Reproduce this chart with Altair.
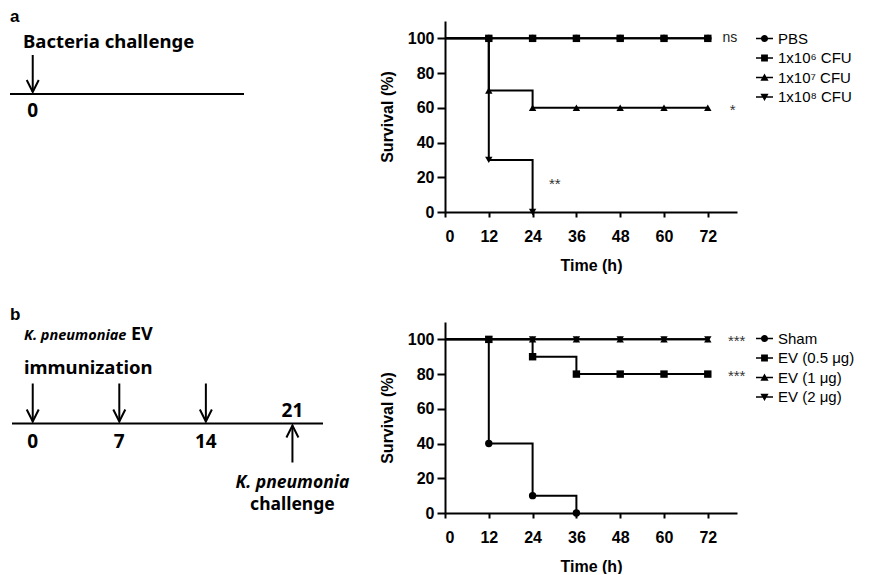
import altair as alt
import pandas as pd

# ---------------- data ----------------
times = [0, 12, 24, 36, 48, 60, 72]
x_ticks = [0, 12, 24, 36, 48, 60, 72]
y_ticks = [0, 20, 40, 60, 80, 100]

a_groups = ["PBS", "1x10⁶ CFU", "1x10⁷ CFU", "1x10⁸ CFU"]
a_pbs = [100, 100, 100, 100, 100, 100, 100]
a_1e6 = [100, 100, 100, 100, 100, 100, 100]
a_1e7 = [100, 70, 60, 60, 60, 60, 60]
a_1e8 = [100, 30, 0]

b_groups = ["Sham", "EV (0.5 μg)", "EV (1 μg)", "EV (2 μg)"]
b_sham = [100, 40, 10, 0]
b_ev05 = [100, 100, 90, 80, 80, 80, 80]
b_ev1 = [100, 100, 100, 100, 100, 100, 100]
b_ev2 = [100, 100, 100, 100, 100, 100, 100]

a_sig = ["ns", "*", "**"]
a_sig_t = [76, 78, 28.5]
a_sig_s = [100, 60, 17]
b_sig = ["***", "***"]
b_sig_t = [77.5, 77.5]
b_sig_s = [100, 80]

# schematic timelines (days)
a_down_days = [0]
a_below_days = [0]
a_below_labels = ["0"]
a_title = "Bacteria challenge"

b_down_days = [0, 7, 14]
b_up_days = [21]
b_below_days = [0, 7, 14]
b_below_labels = ["0", "7", "14"]
b_above_days = [21]
b_above_labels = ["21"]
b_title_it = "K. pneumoniae"
b_title_up = "EV"
b_title2 = "immunization"
b_chal_it = "K. pneumonia"
b_chal = "challenge"

FONT = "Liberation Sans"
SFONT = "Noto Sans"

shapes = ["circle", "square", "triangle-up", "triangle-down"]
LINE = "M-1,-0.1H1V0.1H-1Z"
legend_paths = [
    LINE + "M0.42,0A0.42,0.42,0,1,1,-0.42,0A0.42,0.42,0,1,1,0.42,0Z",
    LINE + "M-0.4,-0.4H0.4V0.4H-0.4Z",
    LINE + "M0,-0.46L0.48,0.38L-0.48,0.38Z",
    LINE + "M-0.48,-0.38L0.48,-0.38L0,0.46Z",
]
DOWN_HEAD = "M-0.5,-1L0,0L0.5,-1"
UP_HEAD = "M-0.5,1L0,0L0.5,1"


def survival_df(groups, series):
    rows = []
    for gi, (g, vals) in enumerate(zip(groups, series)):
        for t, s in zip(times, vals):
            rows.append({"t": t, "s": s, "g": g, "gi": gi})
    return pd.DataFrame(rows)


def survival(df, groups, sig, sig_t, sig_s, legend_y):
    xs = alt.Scale(domain=[0, 80], nice=False)
    ys = alt.Scale(domain=[0, 110], nice=False)
    X = alt.X("t:Q", scale=xs, axis=alt.Axis(values=x_ticks, title="Time (h)"))
    Y = alt.Y("s:Q", scale=ys, axis=alt.Axis(values=y_ticks, title="Survival (%)"))
    base = alt.Chart(df)
    lines = base.mark_line(interpolate="step-after", color="black", strokeWidth=2).encode(
        x=X, y=Y, detail="g:N", order="t:Q")
    pts = base.transform_filter("datum.t > 0").mark_point(
        filled=True, color="black", opacity=1, size=55).encode(
        x=X, y=Y,
        shape=alt.Shape("g:N", scale=alt.Scale(domain=groups, range=shapes), legend=None),
        order=alt.Order("gi:Q"))
    leg = base.transform_filter("datum.t < 0").mark_point(
        filled=True, color="black", opacity=1, size=289).encode(
        x=X, y=Y,
        shape=alt.Shape("g:N", scale=alt.Scale(domain=groups, range=legend_paths),
                        legend=alt.Legend(title=None, orient="none", legendX=311, legendY=legend_y,
                                          symbolSize=289, labelFont=FONT, labelFontSize=15,
                                          labelColor="black", labelOffset=5, rowPadding=2.5,
                                          padding=0, symbolFillColor="black",
                                          symbolStrokeColor="black", symbolStrokeWidth=0,
                                          labelLimit=200)))
    sdf = pd.DataFrame({"t": sig_t, "s": sig_s, "m": sig})
    ns = alt.Chart(sdf).transform_filter("datum.m == 'ns'").mark_text(
        align="left", baseline="middle", font=FONT, fontSize=14, color="#222", dy=0).encode(
        x=X, y=Y, text="m:N")
    stars = alt.Chart(sdf).transform_filter("datum.m != 'ns'").mark_text(
        align="left", baseline="middle", font=FONT, fontSize=15, color="#333", dy=2).encode(
        x=X, y=Y, text="m:N")
    return alt.layer(lines, pts, leg, ns, stars).resolve_scale(shape="independent").properties(
        width=292, height=191)


day_scale = alt.Scale(domain=[-2, 28], nice=False, zero=False)
XD = alt.X("day:Q", scale=day_scale, axis=None)
one = pd.DataFrame({"k": [0]})


def txt(label, x, y, size=18.5, italic=False, align="left", font=SFONT):
    return alt.Chart(pd.DataFrame({"lab": [label]})).mark_text(
        align=align, baseline="alphabetic", font=font, fontSize=size, fontWeight="bold",
        fontStyle="italic" if italic else "normal", color="black").encode(
        x=alt.value(x), y=alt.value(y), text="lab:N")


def day_text(days, labels, y, size=19, italic=False):
    return alt.Chart(pd.DataFrame({"day": days, "lab": labels})).mark_text(
        align="center", baseline="alphabetic", font=SFONT, fontSize=size, fontWeight="bold",
        fontStyle="italic" if italic else "normal", color="black").encode(
        x=XD, y=alt.value(y), text="lab:N")


def down_arrows(days, y_top, y_tip):
    d = pd.DataFrame({"day": days})
    shaft = alt.Chart(d).mark_rule(color="black", strokeWidth=2).encode(
        x=XD, y=alt.value(y_top), y2=alt.value(y_tip))
    head = alt.Chart(d).mark_point(shape=DOWN_HEAD, size=576, filled=False, color="black",
                                   strokeWidth=2, opacity=1).encode(x=XD, y=alt.value(y_tip))
    return [shaft, head]


def up_arrows(days, y_tip, y_bottom):
    d = pd.DataFrame({"day": days})
    shaft = alt.Chart(d).mark_rule(color="black", strokeWidth=2).encode(
        x=XD, y=alt.value(y_tip), y2=alt.value(y_bottom))
    head = alt.Chart(d).mark_point(shape=UP_HEAD, size=576, filled=False, color="black",
                                   strokeWidth=2, opacity=1).encode(x=XD, y=alt.value(y_tip))
    return [shaft, head]


def timeline(x1, x2, y):
    return alt.Chart(one).mark_rule(color="black", strokeWidth=2).encode(
        x=alt.value(x1), x2=alt.value(x2), y=alt.value(y))


SW = 371
schem_a = alt.layer(
    txt("a", 2, 1, size=17, font=FONT),
    txt(a_title, 15, 27.3),
    *down_arrows(a_down_days, 34, 71),
    timeline(2, 236, 73),
    day_text(a_below_days, a_below_labels, 96),
).properties(width=SW, height=191)

schem_b = alt.layer(
    txt("b", 2, -2.5, size=17, font=FONT),
    txt(b_title_it, 16, 17.5, size=14.5, italic=True),
    txt(b_title_up, 123, 17.5, size=18),
    txt(b_title2, 16, 51.5),
    *down_arrows(b_down_days, 61.5, 99.5),
    timeline(4, 315, 101.5),
    day_text(b_above_days, b_above_labels, 94.5),
    *up_arrows(b_up_days, 103.5, 140.5),
    day_text(b_below_days, b_below_labels, 125.5),
    day_text(b_up_days, [b_chal_it], 165.5, size=17.5, italic=True),
    day_text(b_up_days, [b_chal], 188, size=17.5),
).properties(width=SW, height=191)

surv_a = survival(survival_df(a_groups, [a_pbs, a_1e6, a_1e7, a_1e8]), a_groups,
                  a_sig, a_sig_t, a_sig_s, 9)
surv_b = survival(survival_df(b_groups, [b_sham, b_ev05, b_ev1, b_ev2]), b_groups,
                  b_sig, b_sig_t, b_sig_s, 8)

S = 0
row_a = alt.hconcat(schem_a, surv_a, spacing=S)
row_b = alt.hconcat(schem_b, surv_b, spacing=S)

chart = alt.vconcat(row_a, row_b, spacing=32).resolve_scale(
    shape="independent", x="independent", y="independent").properties(
    padding=0, background="white").configure_view(strokeWidth=0).configure_axis(
    domainColor="black", tickColor="black", labelColor="black", titleColor="black",
    domainWidth=2, tickWidth=2, labelFont=FONT, titleFont=FONT, labelFontWeight="bold",
    titleFontWeight="bold", labelFontSize=16, titleFontSize=16, grid=False).configure_axisX(
    tickSize=5, labelPadding=11, titlePadding=13).configure_axisY(
    tickSize=8, labelPadding=3, titlePadding=12)

chart.save("out.html", embed_options={"renderer": "svg", "actions": False})
